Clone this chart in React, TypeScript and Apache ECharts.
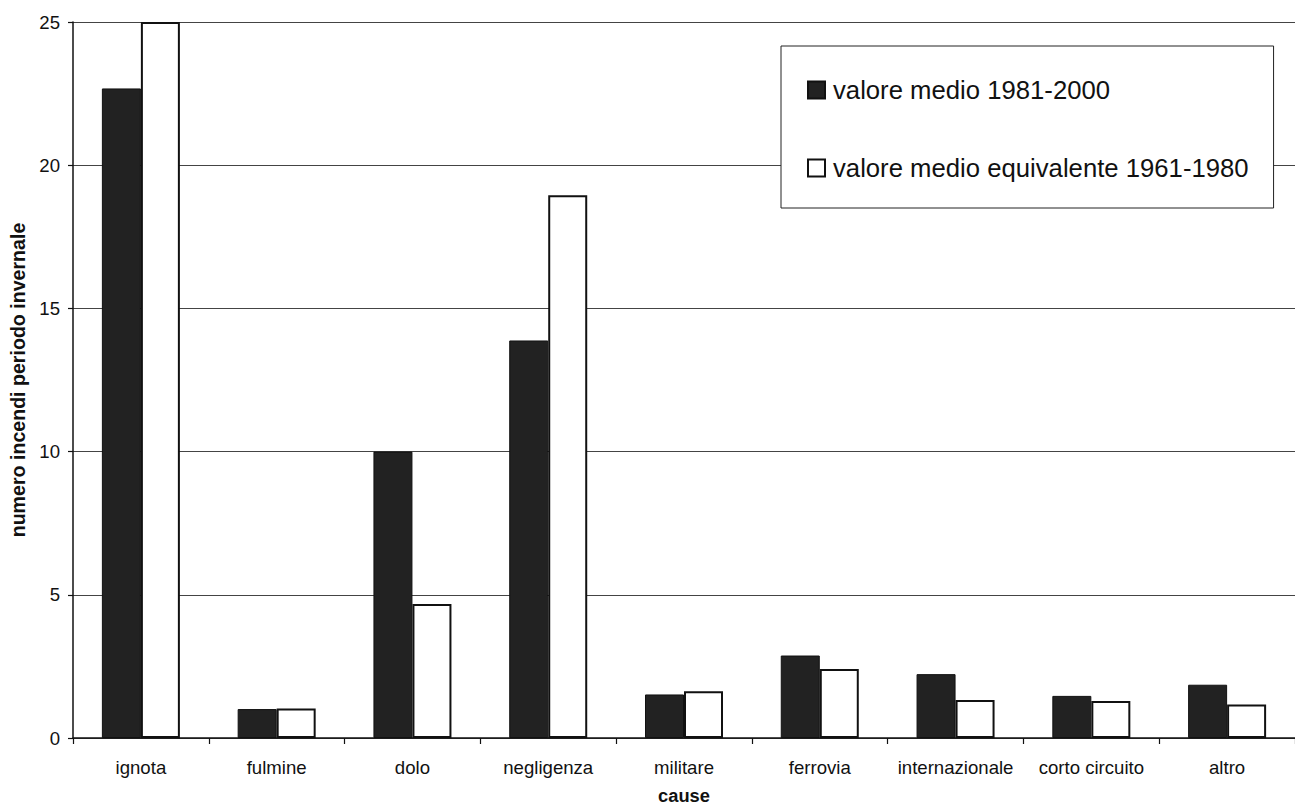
import React, { useEffect, useRef } from "react";
import * as echarts from "echarts";

// Winter-period fire counts by cause
const causes = [
  "ignota",
  "fulmine",
  "dolo",
  "negligenza",
  "militare",
  "ferrovia",
  "internazionale",
  "corto circuito",
  "altro",
];
const media1981_2000 = [22.68, 1.01, 10.0, 13.88, 1.52, 2.88, 2.23, 1.47, 1.86];
const media1961_1980 = [25.0, 1.03, 4.68, 18.95, 1.63, 2.41, 1.33, 1.29, 1.17];
const seriesNames = ["valore medio 1981-2000", "valore medio equivalente 1961-1980"];
const yTicks = { min: 0, max: 25, interval: 5 };

const FONT = "'Liberation Sans', Arial, sans-serif";

export default function App() {
  const ref = useRef<HTMLDivElement>(null);

  useEffect(() => {
    document.body.style.margin = "0";
    document.body.style.overflow = "hidden";
    document.documentElement.style.overflow = "hidden";
    const chart = echarts.init(ref.current!, null, { renderer: "svg" });
    chart.setOption({
      animation: false,
      backgroundColor: "#ffffff",
      textStyle: { fontFamily: FONT, color: "#111" },
      grid: { left: 73, top: 22, width: 1224, height: 718, containLabel: false },
      legend: {
        orient: "vertical",
        left: 781,
        top: 46,
        padding: [31, 25, 27, 26],
        itemGap: 52,
        itemWidth: 17,
        itemHeight: 17,
        icon: "rect",
        borderColor: "#222",
        borderWidth: 1,
        backgroundColor: "#fff",
        textStyle: {
          fontFamily: FONT,
          fontSize: 25.7,
          lineHeight: 25,
          color: "#111",
          padding: [0, 0, 0, 3],
        },
        data: seriesNames,
      },
      xAxis: {
        type: "category",
        data: causes,
        name: "cause",
        nameLocation: "middle",
        nameGap: 48,
        nameTextStyle: {
          fontFamily: FONT,
          fontSize: 18.3,
          fontWeight: "bold",
          color: "#111",
        },
        axisLine: { lineStyle: { color: "#111", width: 1.5 } },
        axisTick: { show: true, length: 6, alignWithLabel: false, lineStyle: { color: "#111", width: 1.2 } },
        axisLabel: { fontFamily: FONT, fontSize: 18.6, color: "#111", margin: 20, interval: 0 },
        splitLine: { show: false },
      },
      yAxis: {
        type: "value",
        min: yTicks.min,
        max: yTicks.max,
        interval: yTicks.interval,
        name: "numero incendi periodo invernale",
        nameLocation: "middle",
        nameGap: 42,
        nameTextStyle: { fontFamily: FONT, fontSize: 19.6, fontWeight: "bold", color: "#111" },
        axisLine: { show: true, lineStyle: { color: "#111", width: 1.5 } },
        axisTick: { show: true, length: 5, lineStyle: { color: "#111", width: 1.2 } },
        axisLabel: { fontFamily: FONT, fontSize: 18.6, color: "#111", margin: 13 },
        splitLine: { show: true, lineStyle: { color: "#444", width: 1 } },
      },
      series: [
        {
          name: seriesNames[0],
          type: "bar",
          data: media1981_2000,
          barWidth: 39,
          barGap: "0%",
          itemStyle: { color: "#222", borderColor: "#111", borderWidth: 1 },
        },
        {
          name: seriesNames[1],
          type: "bar",
          data: media1961_1980,
          barWidth: 39,
          barGap: "0%",
          itemStyle: { color: "#fff", borderColor: "#111", borderWidth: 2 },
        },
      ],
    });
    return () => chart.dispose();
  }, []);

  return (
    <div
      ref={ref}
      style={{ position: "fixed", left: 0, top: 0, width: 1295, height: 809, overflow: "hidden" }}
    />
  );
}
